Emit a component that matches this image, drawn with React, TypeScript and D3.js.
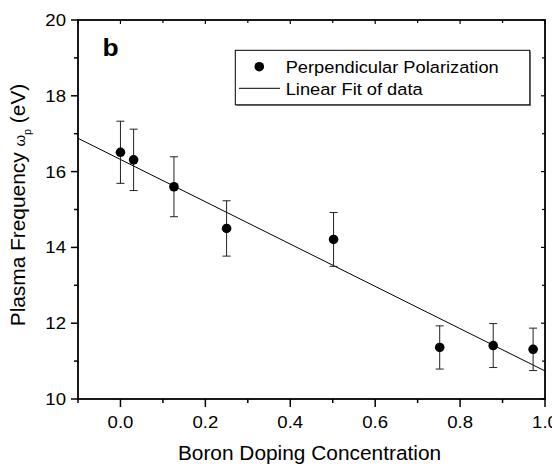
import React from "react";
import * as d3 from "d3";

const xValues = [0.0, 0.031, 0.126, 0.25, 0.502, 0.752, 0.878, 0.972];
const yValues = [16.51, 16.31, 15.6, 14.5, 14.21, 11.36, 11.41, 11.31];
const yErrors = [0.82, 0.81, 0.79, 0.73, 0.71, 0.57, 0.58, 0.56];
const fitIntercept = 16.32;
const fitSlope = -5.58;
const xTicks = [0.0, 0.2, 0.4, 0.6, 0.8, 1.0];
const xMinorTicks = [-0.1, 0.1, 0.3, 0.5, 0.7, 0.9];
const yTicks = [10, 12, 14, 16, 18, 20];
const yMinorTicks = [11, 13, 15, 17, 19];

const W = 552;
const H = 465;
const L = 78, R = 545, T = 20, B = 399;
const FONT = "'Liberation Sans', Arial, Helvetica, sans-serif";

function SText(props: { x: number; y: number; sx: number; size: number; anchor?: string; rotate?: number; weight?: string; children: React.ReactNode }) {
  const { x, y, sx, size, anchor, rotate, weight, children } = props;
  const tr = `translate(${x},${y})${rotate ? ` rotate(${rotate})` : ""} scale(${sx},1)`;
  return (
    <text transform={tr} fontSize={size} textAnchor={anchor || "start"} fontWeight={weight || "normal"}>
      {children}
    </text>
  );
}

export default function App() {
  const x = d3.scaleLinear().domain([-0.1, 1.0]).range([L, R]);
  const y = d3.scaleLinear().domain([10, 20]).range([B, T]);
  const fitLine = d3.line<number>().x((d) => x(d)).y((d) => y(fitIntercept + fitSlope * d));
  const fx = [-0.1, 1.0];

  return (
    <svg width={W} height={H} style={{ position: "absolute", left: 0, top: 0, background: "#fff" }} fontFamily={FONT}>
      <rect x={0} y={0} width={W} height={H} fill="#fff" />
      <path d={fitLine(fx) || ""} fill="none" stroke="#000" strokeWidth={1} />
      {xValues.map((xv, i) => {
        const cx = x(xv);
        const y1 = y(yValues[i] + yErrors[i]);
        const y2 = y(yValues[i] - yErrors[i]);
        return (
          <g key={"e" + i} stroke="#222" strokeWidth={1}>
            <line x1={cx} x2={cx} y1={y1} y2={y2} />
            <line x1={cx - 4} x2={cx + 4} y1={y1} y2={y1} />
            <line x1={cx - 4} x2={cx + 4} y1={y2} y2={y2} />
          </g>
        );
      })}
      {xValues.map((xv, i) => (
        <circle key={"p" + i} cx={x(xv)} cy={y(yValues[i])} r={4.8} fill="#000" />
      ))}
      <rect x={L} y={T} width={R - L} height={B - T} fill="none" stroke="#000" strokeWidth={1.8} />
      {xTicks.map((t) => (
        <g key={"xt" + t}>
          <line x1={x(t)} x2={x(t)} y1={B} y2={B + 8} stroke="#000" strokeWidth={1.5} />
          <line x1={x(t)} x2={x(t)} y1={T} y2={T + 4} stroke="#000" strokeWidth={1.2} />
          <SText x={x(t)} y={427.5} sx={1.14} size={16.3} anchor="middle">{t.toFixed(1)}</SText>
        </g>
      ))}
      {xMinorTicks.map((t) => (
        <g key={"xm" + t}>
          <line x1={x(t)} x2={x(t)} y1={B} y2={B + 4} stroke="#000" strokeWidth={1.5} />
          <line x1={x(t)} x2={x(t)} y1={T} y2={T + 3} stroke="#000" strokeWidth={1.2} />
        </g>
      ))}
      {yTicks.map((t) => (
        <g key={"yt" + t}>
          <line x1={L - 7} x2={L} y1={y(t)} y2={y(t)} stroke="#000" strokeWidth={1.5} />
          <line x1={R - 4} x2={R} y1={y(t)} y2={y(t)} stroke="#000" strokeWidth={1.2} />
          <SText x={66} y={y(t) + 5.9} sx={1.14} size={16.3} anchor="end">{t}</SText>
        </g>
      ))}
      {yMinorTicks.map((t) => (
        <g key={"ym" + t}>
          <line x1={L - 4} x2={L} y1={y(t)} y2={y(t)} stroke="#000" strokeWidth={1.5} />
          <line x1={R - 3} x2={R} y1={y(t)} y2={y(t)} stroke="#000" strokeWidth={1.2} />
        </g>
      ))}
      <SText x={102.5} y={55.7} sx={1.15} size={23} weight="bold">b</SText>
      <rect x={236.5} y={51.5} width={294.5} height={54.5} fill="#888" />
      <rect x={235.3} y={50.3} width={294.5} height={54.5} fill="#fff" stroke="#000" strokeWidth={1} />
      <circle cx={259.3} cy={66.7} r={4.8} fill="#000" />
      <SText x={285.7} y={72.7} sx={1.12} size={16.3}>Perpendicular Polarization</SText>
      <line x1={239} x2={280} y1={88.3} y2={88.3} stroke="#000" strokeWidth={1} />
      <SText x={285.7} y={95} sx={1.12} size={16.3}>Linear Fit of data</SText>
      <SText x={309.5} y={460} sx={1.07} size={19.5} anchor="middle">Boron Doping Concentration</SText>
      <SText x={25} y={205} sx={1.07} size={19.5} anchor="middle" rotate={-90}>
        Plasma Frequency <tspan fontSize={14}>ω</tspan>
        <tspan fontSize={10} dy={6}>p</tspan>
        <tspan dy={-6}> (eV)</tspan>
      </SText>
    </svg>
  );
}
